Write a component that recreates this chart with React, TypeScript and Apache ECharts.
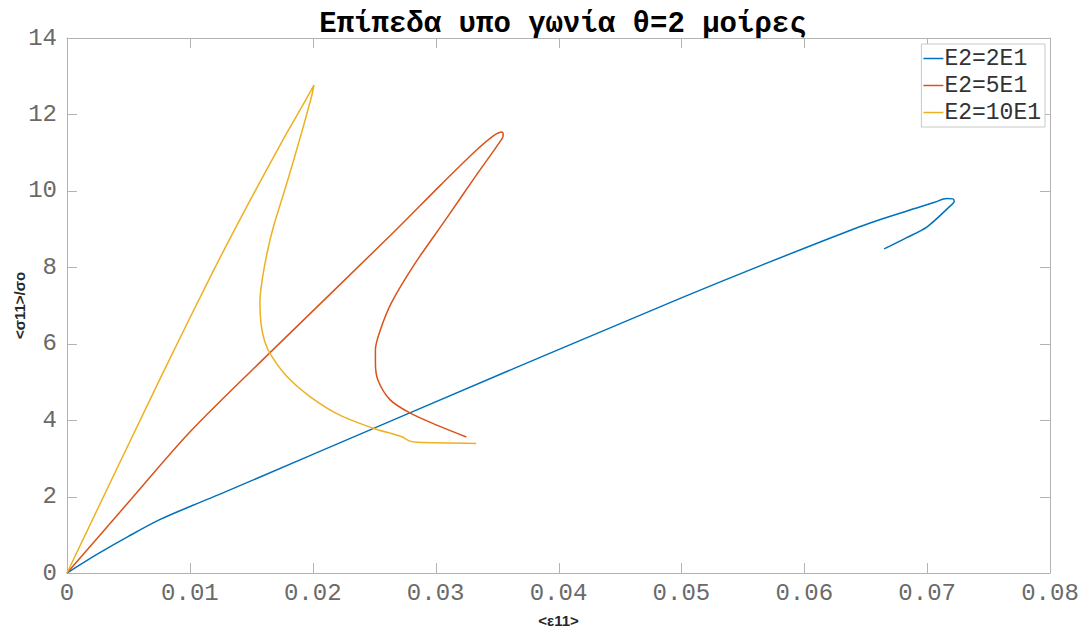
import React, { useEffect, useRef } from "react";
import * as echarts from "echarts";

// Stress–strain paths for plies at 2°, three stiffness ratios: [<ε11>, <σ11>/σo]
const e2Is2E1: [number, number][] = [
  [0, 0], [0.0025, 0.5], [0.005, 0.96], [0.0075, 1.39], [0.0103, 1.78],
  [0.0125, 2.07], [0.0279, 4.19], [0.05, 7.2], [0.0645, 9.06], [0.0686, 9.5],
  [0.0706, 9.7], [0.0716, 9.8], [0.0721, 9.79], [0.0722, 9.72], [0.0718, 9.58],
  [0.07, 9.06], [0.0683, 8.77], [0.0665, 8.48],
];

const e2Is5E1: [number, number][] = [
  [0, 0], [0.005, 1.85], [0.01, 3.69], [0.0165, 5.76], [0.0265, 8.89],
  [0.0304, 10.15], [0.0332, 11.03], [0.0347, 11.44], [0.0354, 11.54],
  [0.0355, 11.45], [0.0352, 11.27], [0.0332, 10.36], [0.0308, 9.24],
  [0.0283, 8.09], [0.0264, 7.07], [0.0255, 6.36], [0.0251, 5.84],
  [0.0251, 5.5], [0.0253, 5.05], [0.0263, 4.53], [0.0279, 4.19],
  [0.0301, 3.87], [0.0325, 3.56],
];

const e2Is10E1: [number, number][] = [
  [0, 0], [0.0076, 5.1], [0.0119, 7.9], [0.0149, 9.75], [0.0176, 11.35],
  [0.0192, 12.25], [0.0201, 12.77], [0.0199, 12.47], [0.019, 11.42],
  [0.0179, 10.21], [0.0168, 9.06], [0.0163, 8.4], [0.0159, 7.7],
  [0.0157, 7.1], [0.0158, 6.5], [0.0161, 6.05], [0.0166, 5.7],
  [0.0179, 5.14], [0.0198, 4.61], [0.0222, 4.13], [0.0249, 3.79],
  [0.0272, 3.57], [0.0279, 3.45], [0.0285, 3.42], [0.0333, 3.39],
];

const seriesNames = ["E2=2E1", "E2=5E1", "E2=10E1"];
const seriesColors = ["#0072BD", "#D95319", "#EDB120"];

// Tick values on the box edges
const xTicks = [0, 0.01, 0.02, 0.03, 0.04, 0.05, 0.06, 0.07, 0.08];
const yTicks = [0, 2, 4, 6, 8, 10, 12, 14];

const axisGray = "#b3b3b3";
const labelGray = "#6a6a6a";
const monoFont = "'Liberation Mono', 'DejaVu Sans Mono', monospace";
const nameFont = "'Liberation Sans', Arial, sans-serif";

const GRID = { left: 67, right: 33, top: 38, bottom: 58 };
const WIDTH = 1083;
const HEIGHT = 631;
const TICK_LEN = 10;

export default function App() {
  const ref = useRef<HTMLDivElement>(null);

  useEffect(() => {
    if (!ref.current) return;
    const chart = echarts.init(ref.current, undefined, { renderer: "svg" });

    const boxAxis = {
      min: 0,
      axisLine: { show: true, onZero: false, lineStyle: { color: axisGray, width: 1 } },
      axisTick: { show: false },
      axisLabel: { show: false },
      splitLine: { show: false },
    };

    chart.setOption({
      animation: false,
      backgroundColor: "#ffffff",
      title: {
        text: "Επίπεδα υπο γωνία θ=2 μοίρες",
        left: 558,
        textAlign: "center",
        top: 5,
        textStyle: {
          fontFamily: monoFont,
          fontWeight: "bold",
          fontSize: 29,
          color: "#000000",
        },
      },
      legend: {
        data: seriesNames,
        right: 38,
        top: 44,
        orient: "vertical",
        icon: "rect",
        itemWidth: 20,
        itemHeight: 1.5,
        itemGap: 4,
        padding: [3, 4, 3, 2],
        borderColor: "#c8c8c8",
        borderWidth: 1,
        backgroundColor: "#ffffff",
        textStyle: { fontFamily: monoFont, fontSize: 23, color: "#333333", padding: [0, 0, 0, -4] },
      },
      grid: { ...GRID, containLabel: false, outerBoundsMode: "none" },
      xAxis: [
        {
          ...boxAxis,
          type: "value",
          position: "bottom",
          max: 0.08,
          interval: 0.01,
          axisLabel: {
            show: true,
            margin: 8,
            fontFamily: monoFont,
            fontSize: 24,
            color: labelGray,
          },
          name: "<ε11>",
          nameLocation: "middle",
          nameGap: 40,
          nameMoveOverlap: false,
          nameTextStyle: { fontFamily: nameFont, fontWeight: "bold", fontSize: 15, color: "#262626" },
        },
        { ...boxAxis, type: "value", position: "top", max: 0.08, interval: 0.01 },
      ],
      yAxis: [
        {
          ...boxAxis,
          type: "value",
          position: "left",
          max: 14,
          interval: 2,
          axisLabel: {
            show: true,
            margin: 10,
            fontFamily: monoFont,
            fontSize: 24,
            color: labelGray,
          },
          name: "<σ11>/σo",
          nameLocation: "middle",
          nameRotate: 90,
          nameGap: 40,
          nameMoveOverlap: false,
          nameTextStyle: { fontFamily: nameFont, fontWeight: "bold", fontSize: 15, color: "#262626" },
        },
        { ...boxAxis, type: "value", position: "right", max: 14, interval: 2 },
      ],
      series: [e2Is2E1, e2Is5E1, e2Is10E1].map((data, i) => ({
        name: seriesNames[i],
        type: "line",
        xAxisIndex: 0,
        yAxisIndex: 0,
        data,
        showSymbol: false,
        smooth: 0.3,
        color: seriesColors[i],
        lineStyle: { width: 1.5, color: seriesColors[i] },
      })),
    });

    // Inward tick marks on all four sides of the box, placed through the axis scales
    const top = GRID.top;
    const bottom = HEIGHT - GRID.bottom;
    const left = GRID.left;
    const right = WIDTH - GRID.right;
    const tickStyle = { stroke: axisGray, lineWidth: 1 };
    const ticks: any[] = [];
    xTicks.forEach((v) => {
      const px = Math.round(chart.convertToPixel({ xAxisIndex: 0 }, v) as number) + 0.5;
      ticks.push(
        { type: "line", silent: true, shape: { x1: px, y1: bottom, x2: px, y2: bottom - TICK_LEN }, style: tickStyle },
        { type: "line", silent: true, shape: { x1: px, y1: top, x2: px, y2: top + TICK_LEN }, style: tickStyle },
      );
    });
    yTicks.forEach((v) => {
      const py = Math.round(chart.convertToPixel({ yAxisIndex: 0 }, v) as number) + 0.5;
      ticks.push(
        { type: "line", silent: true, shape: { x1: left, y1: py, x2: left + TICK_LEN, y2: py }, style: tickStyle },
        { type: "line", silent: true, shape: { x1: right, y1: py, x2: right - TICK_LEN, y2: py }, style: tickStyle },
      );
    });
    chart.setOption({ graphic: ticks });

    return () => chart.dispose();
  }, []);

  return (
    <div
      ref={ref}
      style={{ position: "absolute", left: 0, top: 0, width: WIDTH, height: HEIGHT, background: "#fff" }}
    />
  );
}
